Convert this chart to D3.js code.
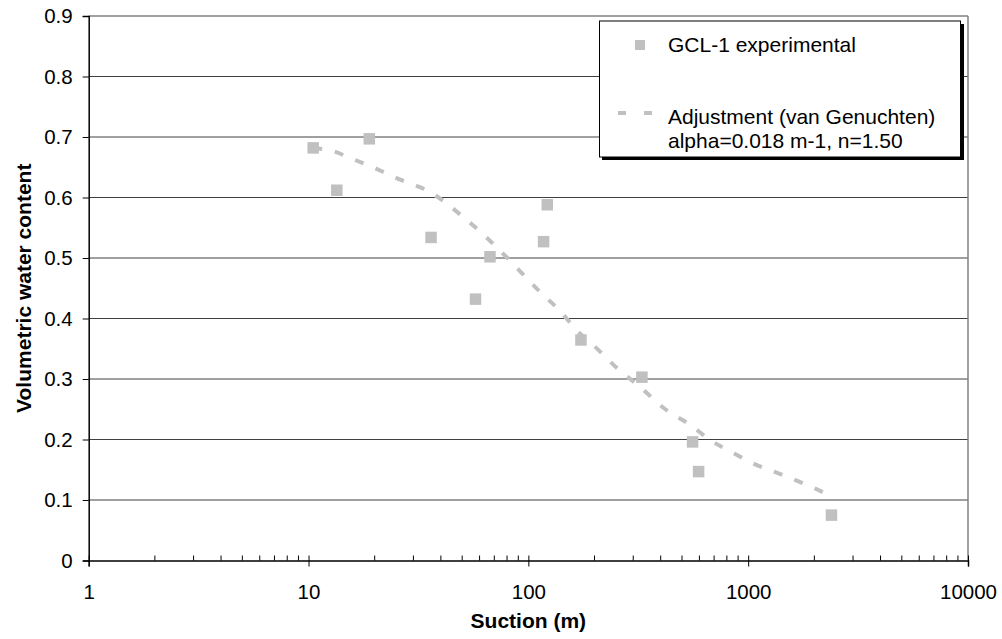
<!DOCTYPE html>
<html>
  <head>
    <style>
      body {
        margin: 0;
        background: #fff;
      }
      svg text {
        font-family: "Liberation Sans", Arial, sans-serif;
      }
    </style>
    <script src="https://d3js.org/d3.v7.min.js"></script>
  </head>
  <body>
    <script>
      const width = 1002;
      const height = 639;

      // experimental points (suction m, volumetric water content)
      const expSuction = [10.5, 13.45, 18.9, 36.1, 57.5, 66.9, 117.3, 121.9, 173.5, 328.6, 558.6, 595, 2393];
      const expTheta = [0.682, 0.612, 0.697, 0.534, 0.432, 0.502, 0.527, 0.588, 0.3645, 0.303, 0.196, 0.147, 0.075];

      // fitted curve
      const fitSuction = [10.5, 12.8, 15.8, 20.5, 26.3, 34.5, 52, 64.5, 75.9, 92.9, 113, 138, 165.7, 207, 253, 320, 420, 546, 673, 865, 1045, 1442, 1933, 2393];
      const fitTheta = [0.682, 0.677, 0.664, 0.647, 0.629, 0.612, 0.564, 0.534, 0.509, 0.476, 0.444, 0.414, 0.381, 0.349, 0.318, 0.288, 0.25, 0.224, 0.199, 0.177, 0.161, 0.141, 0.122, 0.106];

      const yTicks = [0, 0.1, 0.2, 0.3, 0.4, 0.5, 0.6, 0.7, 0.8, 0.9];
      const xTicks = [1, 10, 100, 1000, 10000];

      const plotLeft = 88.7, plotRight = 968, plotTop = 16, plotBottom = 560.5;

      const svg = d3.select("body").append("svg")
        .attr("width", width)
        .attr("height", height);

      const x = d3.scaleLog().domain([1, 10000]).range([plotLeft, plotRight]);
      const y = d3.scaleLinear().domain([0, 0.9]).range([plotBottom, plotTop]);

      // gridlines
      svg.append("g")
        .selectAll("line")
        .data(yTicks.slice(1))
        .enter()
        .append("line")
        .attr("x1", plotLeft)
        .attr("x2", plotRight)
        .attr("y1", d => y(d))
        .attr("y2", d => y(d))
        .attr("stroke", d => d === 0.9 ? "#808080" : "#404040")
        .attr("stroke-width", d => d === 0.9 ? 1.5 : 1);

      // right border
      svg.append("line")
        .attr("x1", plotRight).attr("x2", plotRight)
        .attr("y1", plotTop).attr("y2", plotBottom)
        .attr("stroke", "#808080")
        .attr("stroke-width", 1.5);

      // y axis
      const yAxis = d3.axisLeft(y)
        .tickValues(yTicks)
        .tickFormat(d => d === 0 ? "0" : d3.format(".1f")(d))
        .tickSize(6)
        .tickPadding(10);
      const gy = svg.append("g")
        .attr("transform", "translate(" + plotLeft + ",0)")
        .call(yAxis);
      gy.select(".domain").attr("stroke", "#000").attr("stroke-width", 1.5);
      gy.selectAll(".tick line").attr("stroke", "#000");
      gy.selectAll("text").style("font-size", "20.5px").attr("fill", "#000");

      // x axis minor ticks
      const minor = [];
      for (let dec = 1; dec < 10000; dec *= 10) {
        for (let k = 2; k <= 9; k++) minor.push(dec * k);
      }
      svg.append("g")
        .selectAll("line")
        .data(minor)
        .enter()
        .append("line")
        .attr("x1", d => x(d))
        .attr("x2", d => x(d))
        .attr("y1", plotBottom - 5)
        .attr("y2", plotBottom)
        .attr("stroke", "#000");

      const xAxis = d3.axisBottom(x)
        .tickValues(xTicks)
        .tickFormat(d3.format("d"))
        .tickSize(6)
        .tickPadding(18);
      const gx = svg.append("g")
        .attr("transform", "translate(0," + plotBottom + ")")
        .call(xAxis);
      gx.select(".domain").attr("stroke", "#000").attr("stroke-width", 1.5);
      gx.selectAll(".tick line").attr("stroke", "#000").attr("y1", -5);
      gx.selectAll("text").style("font-size", "20.5px").attr("fill", "#000");

      // fitted curve
      const fitData = fitSuction.map((s, i) => [s, fitTheta[i]]);
      const line = d3.line()
        .x(d => x(d[0]))
        .y(d => y(d[1]))
        .curve(d3.curveMonotoneX);
      svg.append("path")
        .datum(fitData)
        .attr("d", line)
        .attr("fill", "none")
        .attr("stroke", "#c0c0c0")
        .attr("stroke-width", 4)
        .attr("stroke-dasharray", "9,13");

      // experimental points
      const expData = expSuction.map((s, i) => [s, expTheta[i]]);
      const sq = 11.5;
      svg.append("g")
        .selectAll("rect")
        .data(expData)
        .enter()
        .append("rect")
        .attr("x", d => x(d[0]) - sq / 2)
        .attr("y", d => y(d[1]) - sq / 2)
        .attr("width", sq)
        .attr("height", sq)
        .attr("fill", "#c0c0c0");

      // axis titles
      svg.append("text")
        .attr("x", (plotLeft + plotRight) / 2)
        .attr("y", 628)
        .attr("text-anchor", "middle")
        .style("font-size", "21px")
        .style("font-weight", "bold")
        .text("Suction (m)");

      svg.append("text")
        .attr("transform", "translate(31," + (plotTop + plotBottom) / 2 + ") rotate(-90)")
        .attr("text-anchor", "middle")
        .style("font-size", "21px")
        .style("font-weight", "bold")
        .text("Volumetric water content");

      // legend
      const lg = svg.append("g");
      lg.append("rect")
        .attr("x", 602).attr("y", 24)
        .attr("width", 362).attr("height", 136)
        .attr("fill", "#000");
      lg.append("rect")
        .attr("x", 599.5).attr("y", 21)
        .attr("width", 361).attr("height", 136)
        .attr("fill", "#fff")
        .attr("stroke", "#000")
        .attr("stroke-width", 1);
      lg.append("rect")
        .attr("x", 635).attr("y", 40)
        .attr("width", 10).attr("height", 10)
        .attr("fill", "#c0c0c0");
      lg.append("text")
        .attr("x", 668).attr("y", 52)
        .style("font-size", "21px")
        .text("GCL-1 experimental");
      lg.append("line")
        .attr("x1", 618).attr("x2", 653)
        .attr("y1", 113).attr("y2", 113)
        .attr("stroke", "#c0c0c0")
        .attr("stroke-width", 4)
        .attr("stroke-dasharray", "8,18");
      lg.append("text")
        .attr("x", 668).attr("y", 124)
        .style("font-size", "21px")
        .text("Adjustment (van Genuchten)");
      lg.append("text")
        .attr("x", 668).attr("y", 148)
        .style("font-size", "21px")
        .text("alpha=0.018 m-1, n=1.50");
    </script>
  </body>
</html>
